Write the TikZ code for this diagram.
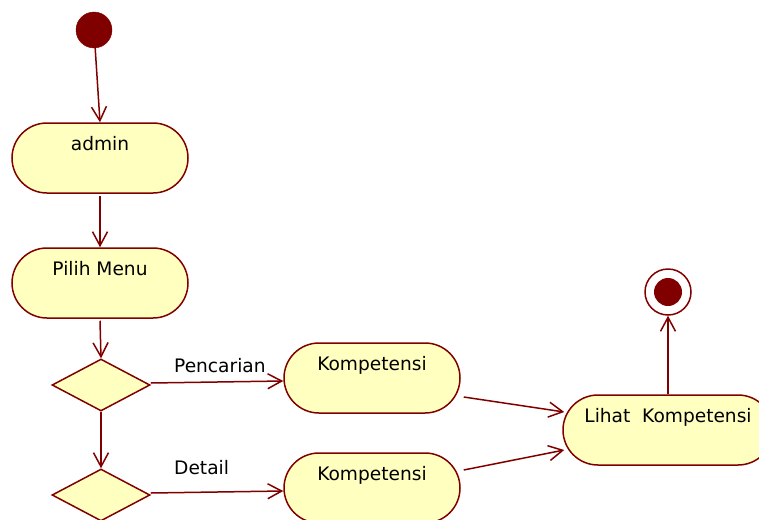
\documentclass[tikz,border=0pt]{standalone}
\usepackage{fontspec}
\setmainfont{DejaVu Sans}
\usetikzlibrary{arrows.meta,shapes.geometric}
\definecolor{umlline}{RGB}{128,0,0}
\definecolor{umlfill}{RGB}{255,255,192}
\tikzset{
  flow/.style={draw=umlline, line width=1.5pt, -{Straight Barb[length=14pt,width=15pt,line width=1.5pt]}},
  activity/.style={rectangle, rounded corners=35pt, draw=umlline, fill=umlfill, line width=1.5pt,
    minimum height=70pt, inner sep=0pt},
  decision/.style={diamond, draw=umlline, fill=umlfill, line width=1.5pt,
    minimum width=98pt, minimum height=52pt, inner sep=0pt},
  caption/.style={anchor=base, font=\fontsize{18.6}{20}\selectfont, text=black, inner sep=0pt},
  guard/.style={anchor=base west, font=\fontsize{18.6}{20}\selectfont, text=black, inner sep=0pt}
}
\begin{document}
\begin{tikzpicture}[x=1pt,y=1pt]
\useasboundingbox (0,0) rectangle (759,-519);
\begin{scope}
\clip (0,0) rectangle (759,-519);

% start and end states
\node[circle, fill=umlline, draw=umlline, minimum size=36pt, inner sep=0pt] (start) at (94,-30) {};
\node[circle, draw=umlline, fill=white, line width=1.5pt, minimum size=46pt, inner sep=0pt] (final) at (668,-292) {};
\node[circle, fill=umlline, minimum size=28pt, inner sep=0pt] (finaldot) at (668,-292) {};

% activities
\node[activity, minimum width=176pt] (admin) at (100,-158) {};
\node[caption] (admintxt) at ([yshift=-28pt]admin.north) {admin};
\node[activity, minimum width=176pt] (pilih) at (100,-283) {};
\node[caption] (pilihtxt) at ([yshift=-28pt]pilih.north) {Pilih Menu};
\node[activity, minimum width=176pt] (k1) at (372,-378) {};
\node[caption] (k1txt) at ([yshift=-28pt]k1.north) {Kompetensi};
\node[activity, minimum width=176pt] (k2) at (372,-488) {};
\node[caption] (k2txt) at ([yshift=-28pt]k2.north) {Kompetensi};
\node[activity, minimum width=210pt] (lihat) at (668,-430) {};
\node[caption] (lihattxt) at ([yshift=-28pt]lihat.north) {Lihat\ \ Kompetensi};

% decisions
\node[decision] (d1) at (101,-385) {};
\node[decision] (d2) at (101,-495) {};

% guards
\node[guard] (g1) at (174,-372) {Pencarian};
\node[guard] (g2) at (174,-474) {Detail};

% transitions
\draw[flow] (start) -- (admin.north);
\draw[flow] ([yshift=-2pt]admin.south) -- (pilih.north);
\draw[flow] ([yshift=-2pt]pilih.south) -- (d1.north);
\draw[flow] (d1.south) -- (d2.north);
\draw[flow] ([yshift=2pt]d1.east) -- ([yshift=-3pt]k1.west);
\draw[flow] ([yshift=2pt]d2.east) -- ([yshift=-3pt]k2.west);
\draw[flow] ([xshift=3pt,yshift=-19pt]k1.east) -- ([xshift=2pt,yshift=18pt]lihat.west);
\draw[flow] ([xshift=3pt,yshift=18pt]k2.east) -- ([xshift=2pt,yshift=-20pt]lihat.west);
\draw[flow] (lihat.north) -- (final.south);
\end{scope}
\end{tikzpicture}
\end{document}
